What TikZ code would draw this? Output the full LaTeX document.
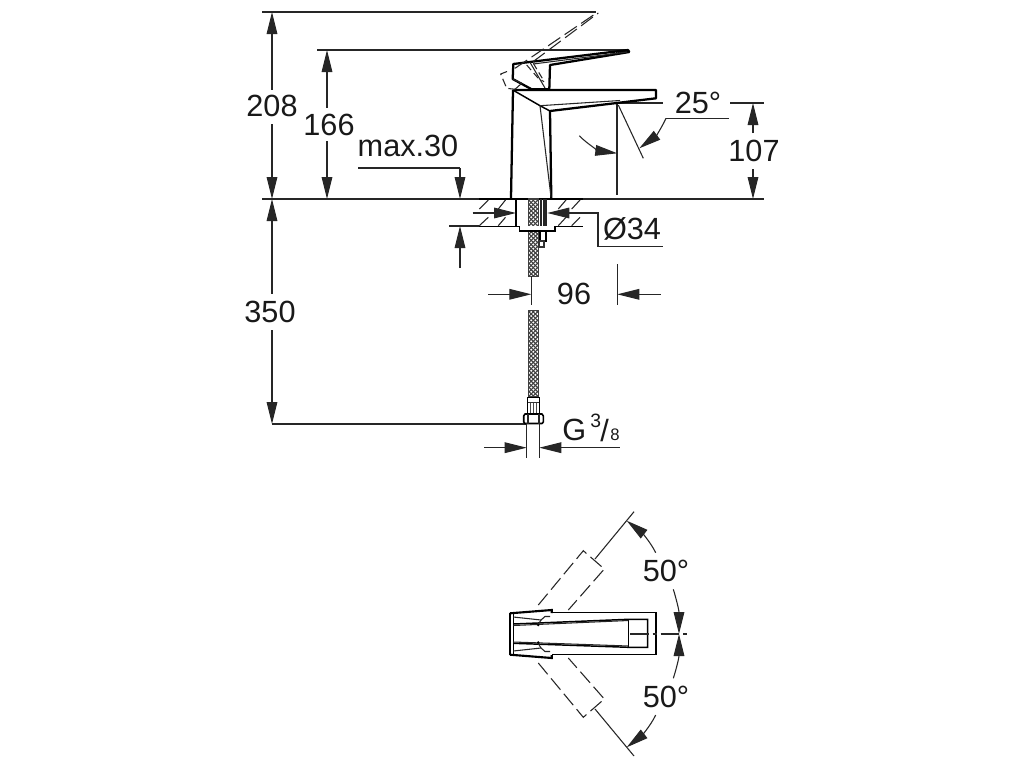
\documentclass[tikz,border=0pt]{standalone}
\usepackage{fontspec}
\setmainfont{Liberation Sans}
\usetikzlibrary{arrows.meta}
\tikzset{
  thinline/.style={line width=0.8pt,black!85},
  body/.style={line width=1.7pt,black,line join=bevel},
  mid/.style={line width=1.1pt,black},
  dashline/.style={line width=0.8pt,black!85,dash pattern=on 11pt off 4pt},
  dimtip/.style={-{Triangle[length=16.5pt,width=8pt]},line width=0.8pt,black!85},
  lab/.style={font=\fontsize{23pt}{26pt}\selectfont,inner sep=0pt,text=black!90}
}
\newcommand{\braid}[4]{%
  \begin{scope}
    \clip (#1,#2) rectangle (#3,#4);
    \fill[white] (#1,#2) rectangle (#3,#4);
    \pgfmathsetmacro{\ya}{#2-12}
    \pgfmathsetmacro{\yb}{\ya+4.2}
    \foreach \k in {\ya,\yb,...,#4}{
      \draw[black!75,line width=0.8pt] (#1,\k) -- ++(12,12);
      \draw[black!75,line width=0.8pt] (#3,\k) -- ++(-12,12);
    }
  \end{scope}
  \draw[line width=0.9pt,black!75] (#1,#2) rectangle (#3,#4);
}
\begin{document}
\begin{tikzpicture}[x=0.75pt,y=-0.75pt]
\useasboundingbox (0,0) rectangle (1024,768);
\fill[white] (0,0) rectangle (1024,768);

% reference lines
\draw[thinline] (262,12) -- (596,12);
\draw[thinline] (317,50) -- (628,50);
\draw[line width=1.1pt,black!85] (262,199) -- (764,199);
\draw[thinline] (272,424) -- (526,424);

% dimension 208
\draw[dimtip] (272,45) -- (272,12);
\draw[thinline] (272,45) -- (272,90);
\draw[dimtip] (272,160) -- (272,199);
\draw[thinline] (272,124) -- (272,160);
\node[lab] (t208) at (272,106) {208};
% dimension 166
\draw[dimtip] (327,85) -- (327,50);
\draw[thinline] (327,85) -- (327,108);
\draw[dimtip] (327,165) -- (327,199);
\draw[thinline] (327,141) -- (327,165);
\node[lab] (t166) at (329,125) {166};
% dimension 350
\draw[dimtip] (272,240) -- (272,199);
\draw[thinline] (272,240) -- (272,294);
\draw[dimtip] (272,390) -- (272,424);
\draw[thinline] (272,330) -- (272,390);
\node[lab] (t350) at (270,312) {350};
% max.30
\node[lab] (tmax) at (408,146) {max.30};
\draw[thinline] (358,168) -- (460,168);
\draw[dimtip] (460,168) -- (460,199);
\draw[dimtip] (460,268) -- (460,226);
\draw[thinline] (449,226) -- (479,226);
% 107
\draw[thinline] (618,103) -- (663,103);
\draw[thinline] (730,103) -- (764,103);
\draw[dimtip] (753,133) -- (753,103);
\draw[dimtip] (753,169) -- (753,199);
\node[lab] (t107) at (754,151) {107};
% 25 deg
\node[lab] (t25) at (698,103) {25°};
\draw[thinline] (617,103) -- (617,195);
\draw[thinline] (618.3,105) -- (643.3,158.3);
\draw[thinline] (729,118.3) -- (666,118.3);
\draw[dimtip] (666,118.3) .. controls (662,127) and (656,136) .. (639.3,148.3);
\draw[dimtip] (579.3,135.7) .. controls (587,144) and (600,151) .. (617.3,153.3);

% faucet body
\draw[body] (513,90) -- (511,198);
\draw[body] (550,111) -- (551.3,198);
\draw[body] (513.3,90) -- (656,90) -- (656,98.3) -- (550,111);
\draw[mid] (514,90.7) -- (540,105.7) -- (550,111);
\draw[thinline] (540,105.7) -- (551,197);
\draw[thinline] (540,105.7) -- (620,100.5);
% handle
\draw[body] (513.3,64) -- (628,50) -- (629.3,52) -- (550,65) -- (549.3,89.3) -- (531.7,89.3) -- (512.7,79) -- cycle;
\draw[thinline] (533.3,64) -- (627,52);
\draw[thinline] (515,89.3) -- (521.7,83.3) -- (512.7,79);
\draw[thinline] (530,62.3) -- (545,88);
% raised handle, dashed
\draw[dashline] (515,68.3) -- (595,14);
\draw[dashline] (533,61.7) -- (598.3,13);
\draw[line width=0.8pt,black!85,dash pattern=on 6pt off 3pt] (507,71.5) -- (500.7,74) -- (506.7,88.3) -- (515,89.3);
\draw[line width=0.8pt,black!85,dash pattern=on 5pt off 3pt] (526.7,65) -- (538,78) -- (544,81.7);
\draw[line width=0.8pt,black!85,dash pattern=on 5pt off 3pt] (533.3,63.3) -- (543.3,80);

% worktop
\draw[line width=1.1pt,black] (479,199) -- (583,199);
\draw[line width=1.1pt,black] (479,226.3) -- (583,226.3);
\foreach \a/\b in {479.3/488.3,498.3/505.5,558.3/566,571.7/580}{
  \draw[thinline] (\a,209) -- (\b,200);
  \draw[thinline] (\a,225.7) -- (\b,217.3);
}
% hole and hose
\fill[white] (516,199.5) rectangle (547,226);
\draw[mid] (516,199) -- (516,226);
\draw[line width=2.5pt,black!85] (545,199) -- (545,226);
\draw[thinline] (541,199) -- (541,226);
\braid{528.3}{199}{538.3}{276.7}
% flange and nut
\fill[white] (519.3,226.3) rectangle (555,231);
\draw[mid] (519.3,226.3) -- (519.3,231) -- (555,231) -- (555,226.3);
\draw[mid] (540,231) rectangle (546,241);
\draw[line width=1.5pt,black!80] (539,241) rectangle (544,247);

% dia 34
\draw[dimtip] (472.7,213) -- (516,213);
\draw[dimtip] (568,213) -- (547.3,213);
\draw[thinline] (568,213) -- (598,213) -- (598,246.7) -- (663,246.7);
\node[lab] (tdia) at (632,229) {Ø34};

% 96
\draw[thinline] (531.3,276) -- (531.3,305);
\draw[thinline] (617.3,264.3) -- (617.3,305);
\draw[dimtip] (488.3,294.3) -- (531.3,294.3);
\draw[dimtip] (660.7,294.3) -- (617.3,294.3);
\node[lab] (t96) at (574,294) {96};

% lower hose
\braid{528.3}{310.5}{538.3}{397}
\draw[mid] (527.7,397.3) rectangle (539.3,413.5);
\foreach \x in {530.5,533.5,536.5}{\draw[line width=0.6pt,black!70] (\x,403) -- (\x,413);}
\draw[line width=0.75pt,black!80] (527.7,402.5) -- (539.3,402.5);
\draw[body,line width=1.2pt] (525,414) -- (542,414) -- (543.3,416) -- (543.3,422) -- (542,423.5) -- (525,423.5) -- (523.7,422) -- (523.7,416) -- cycle;
\draw[thinline] (528,414) -- (528,423.5);
\draw[thinline] (539,414) -- (539,423.5);

% G 3/8
\draw[thinline] (526.7,423) -- (526.7,458.3);
\draw[thinline] (539.3,423) -- (539.3,458.3);
\draw[dimtip] (484,447.7) -- (526.7,447.7);
\draw[dimtip] (561.7,447.7) -- (539.3,447.7);
\draw[thinline] (561.7,447.7) -- (620,447.7);
\node[lab,anchor=base west] (tg) at (562,440) {G};
\node[lab,anchor=base west,font=\fontsize{14.5pt}{18pt}\selectfont] (t3) at (590,427) {3};
\node[lab,anchor=base west] (tslash) at (600,441) {/};
\node[lab,anchor=base west,font=\fontsize{12.5pt}{14pt}\selectfont] (t8) at (610,440) {8};

% top view
\draw[mid] (551.7,612.7) -- (656,612.7) -- (656,654.7) -- (551.7,654.7);
\draw[line width=1.6pt,black] (510,613.3) -- (551.7,610) -- (551.7,613);
\draw[line width=1.6pt,black] (510,654.7) -- (551.7,658) -- (551.7,655);
\draw[line width=1.6pt,black] (510,613.3) -- (510,654.7);
\draw[mid] (513.3,613.5) -- (513.3,654.5);
\draw[mid] (513.3,624) -- (628.3,619.3) -- (647.7,619.3) -- (647.7,647.3) -- (628.3,647.3) -- (513.3,643.3);
\draw[mid] (628.3,619.3) -- (628.3,647.3);
\draw[thinline] (513.3,625.5) -- (628.3,620.5);
\draw[thinline] (513.3,642) -- (628.3,646);
\draw[thinline] (513.3,617) -- (541,620) -- (545,616.5) -- (550,616.5);
\draw[thinline] (513.3,651) -- (541,648) -- (545,651.5) -- (550,651.5);
\draw[thinline] (541,620) -- (538,625);
\draw[thinline] (541,648) -- (538,643);
\fill[black] (538.3,625) circle (1pt) (538.3,642.5) circle (1pt);
\draw[line width=0.8pt,black!85,dash pattern=on 14pt off 3pt on 3pt off 3pt] (630,634) -- (690.7,634);
% dashed handle outlines
\draw[dashline] (538.3,605) -- (583.3,550.7) -- (604.3,569) -- (568.3,610);
\draw[dashline] (538.3,663) -- (583.3,717.3) -- (604.3,699) -- (568.3,658);
% radial lines
\draw[thinline] (595,559) -- (634,511.7);
\draw[thinline] (595,709) -- (634,756);
% angle arrows
\draw[dimtip] (655.7,552.7) .. controls (650,541) and (640,531) .. (626.7,520.7);
\draw[dimtip] (655.7,715) .. controls (650,727) and (640,737) .. (626.7,747.3);
\draw[dimtip] (673.3,589.3) .. controls (676,598) and (679,610) .. (679,634);
\draw[dimtip] (673.3,678.3) .. controls (676,670) and (679,658) .. (679,634);
\node[lab] (t50a) at (666,571) {50°};
\node[lab] (t50b) at (666,697) {50°};
\end{tikzpicture}
\end{document}
